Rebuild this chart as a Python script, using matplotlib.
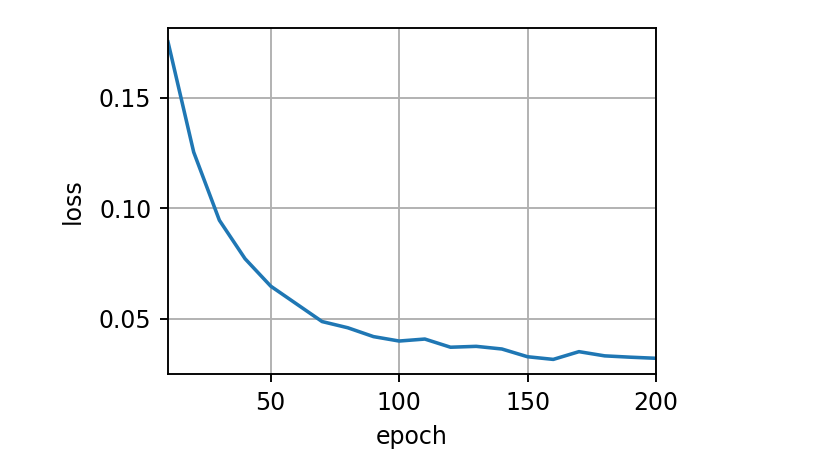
import matplotlib
matplotlib.use("Agg")
import matplotlib.pyplot as plt

epochs = [10, 20, 30, 40, 50, 60, 70, 80, 90, 100,
          110, 120, 130, 140, 150, 160, 170, 180, 190, 200]
loss = [0.1752, 0.1254, 0.0946, 0.0772, 0.0648, 0.0568, 0.0488, 0.0460, 0.0420, 0.0400,
        0.0409, 0.0372, 0.0376, 0.0364, 0.0329, 0.0317, 0.0352, 0.0333, 0.0327, 0.0322]
xticks = [50, 100, 150, 200]
yticks = [0.05, 0.10, 0.15]

DPI = 170
fig = plt.figure(figsize=(826 / DPI, 475 / DPI), dpi=DPI)
ax = fig.add_axes([168 / 826, 1 - 374 / 475, (656 - 168) / 826, (374 - 28) / 475])
ax.plot(epochs, loss, color="#1f77b4", linewidth=1.5)
ax.set_xlim(10, 200)
ax.set_ylim(0.0251, 0.1815)
ax.set_xticks(xticks)
ax.set_yticks(yticks)
ax.set_xlabel("epoch", labelpad=4.5)
ax.set_ylabel("loss", labelpad=6)
ax.grid(True)
fig.savefig("out.png", dpi=DPI)
